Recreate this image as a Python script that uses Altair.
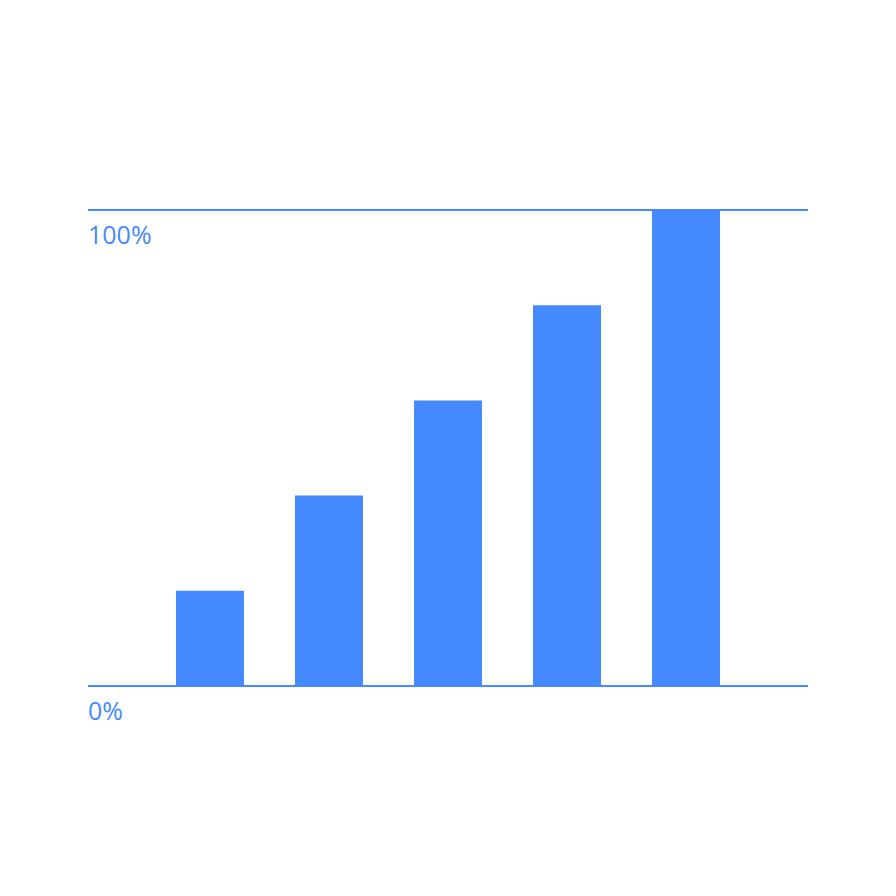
import altair as alt
import pandas as pd

positions = [1, 2, 3, 4, 5]
values = [0.2, 0.4, 0.6, 0.8, 1.0]
tick_values = [0.0, 1.0]
tick_labels = ["0%", "100%"]

BLUE = "#4589ff"

bars_df = pd.DataFrame({"pos": positions, "value": values})
ticks_df = pd.DataFrame({"value": tick_values, "label": tick_labels})

x_scale = alt.Scale(domain=[-0.025, 6.025], nice=False, zero=False, padding=0)
y_scale = alt.Scale(domain=[0, 1], nice=False, padding=0)

bars = alt.Chart(bars_df).mark_bar(color=BLUE, size=68).encode(
    x=alt.X("pos:Q", scale=x_scale, axis=None),
    y=alt.Y("value:Q", scale=y_scale, axis=None),
)

rules = alt.Chart(ticks_df).mark_rule(color=BLUE, strokeWidth=2).encode(
    y=alt.Y("value:Q", scale=y_scale, axis=None),
)

labels = alt.Chart(ticks_df).mark_text(
    color=BLUE, align="left", baseline="alphabetic", dy=34,
    font="Open Sans", fontSize=25,
).encode(
    x=alt.value(0),
    y=alt.Y("value:Q", scale=y_scale, axis=None),
    text="label:N",
)

chart = alt.layer(bars, rules, labels).properties(
    width=720, height=476,
    padding={"left": 80, "top": 202, "right": 80, "bottom": 100},
    autosize=alt.AutoSizeParams(type="none"),
).configure_view(stroke=None)

chart.save("out.html", embed_options={"renderer": "svg", "actions": False})
